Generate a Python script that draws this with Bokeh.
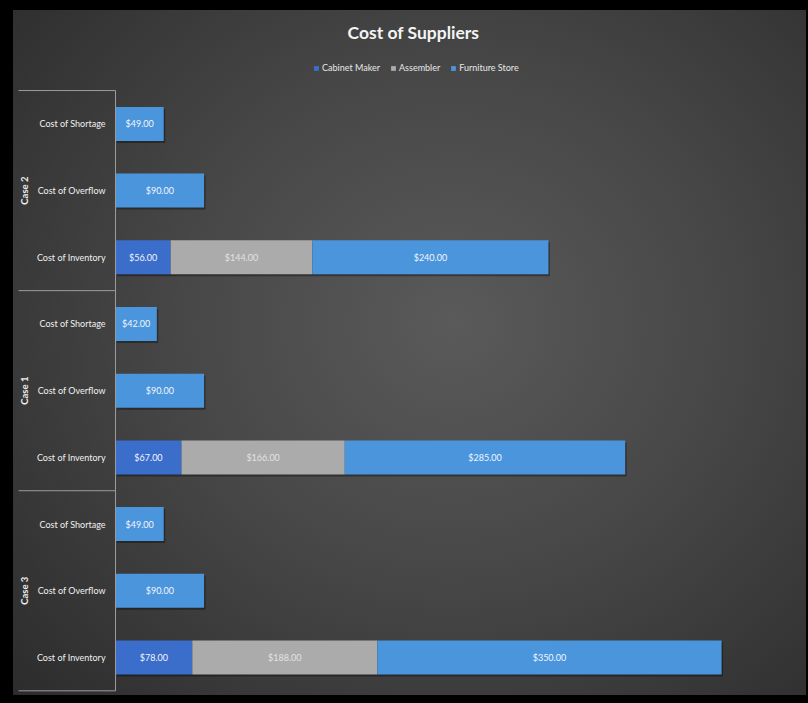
from bokeh.plotting import figure
from bokeh.models import Range1d, ColumnDataSource, Legend, LegendItem, Label
from bokeh.core.properties import value
from bokeh.embed import file_html
from bokeh.resources import INLINE

# ---- data (rows listed bottom to top) ----
cases = ["Case 3", "Case 1", "Case 2"]
metrics = ["Cost of Inventory", "Cost of Overflow", "Cost of Shortage"]
series = ["Cabinet Maker", "Assembler", "Furniture Store"]
cabinet_maker = [78, 0, 0, 67, 0, 0, 56, 0, 0]
assembler = [188, 0, 0, 166, 0, 0, 144, 0, 0]
furniture_store = [350, 90, 49, 285, 90, 42, 240, 90, 49]

colors = ["#3b6dcb", "#ababab", "#4b95dd"]
label_colors = ["#f2f5fb", "#e2e2e2", "#f2f5fb"]
FONT = "Lato"
W, H = 808, 703

rows = [(c, m) for c in cases for m in metrics]
ypos = list(range(len(rows)))          # row index, bottom to top
values = [cabinet_maker, assembler, furniture_store]

X0 = -116.9
p = figure(
    width=W, height=H, title=None,
    x_range=Range1d(X0, 704.3), y_range=Range1d(-0.69, 9.85),
    output_backend="svg", toolbar_location=None,
    min_border_left=0, min_border_right=0, min_border_top=0, min_border_bottom=0,
)
p.styles = {
    "background": "radial-gradient(ellipse 75% 80% at 56% 46%, #5a5a5a 0%, #474747 45%, #2b2b2b 100%)",
    "box-shadow": "inset 13px 10px 0 0 #000, inset -2px -8px 0 0 #000",
}
p.border_fill_color = None
p.background_fill_color = None
p.outline_line_color = None
p.xaxis.visible = False
p.yaxis.visible = False
p.xgrid.visible = False
p.ygrid.visible = False

# soft shadow beneath each stacked bar
totals = [a + b + c for a, b, c in zip(cabinet_maker, assembler, furniture_store)]
p.hbar(y=[yy - 0.03 for yy in ypos], left=1.5, right=[t + 1.5 for t in totals], height=0.51,
       fill_color="#000000", fill_alpha=0.35, line_color=None)

# stacked bars
left = [0] * len(rows)
renderers = []
lab_x, lab_y, lab_t, lab_c = [], [], [], []
for name, vals, col, lc in zip(series, values, colors, label_colors):
    right = [l + v for l, v in zip(left, vals)]
    src = ColumnDataSource(dict(y=ypos, left=left, right=right))
    r = p.hbar(y="y", left="left", right="right", height=0.51, source=src,
               fill_color=col, line_color=None)
    renderers.append(r)
    for yy, l, v in zip(ypos, left, vals):
        if v > 0:
            lab_x.append(l + v / 2)
            lab_y.append(yy)
            lab_t.append(f"${v:.2f}")
            lab_c.append(lc)
    left = right

p.text(x="x", y="y", text="t", text_color="c",
       source=ColumnDataSource(dict(x=lab_x, y=lab_y, t=lab_t, c=lab_c)),
       text_align="center", text_baseline="middle",
       text_font=value(FONT), text_font_size="9px")

# category labels
p.text(x=[-10] * len(rows), y=ypos, text=[m for _, m in rows],
       text_align="right", text_baseline="middle", text_color="#f0f0f0",
       text_font=value(FONT), text_font_size="9px")

# group labels (vertical), centred on each group's rows
n = len(metrics)
grp_y = [sum(ypos[i * n:(i + 1) * n]) / n for i in range(len(cases))]
p.text(x=[-92] * len(cases), y=grp_y, text=cases, angle=1.5708,
       text_align="center", text_baseline="middle", text_color="#eeeeee",
       text_font=value(FONT), text_font_size="9.5px", text_font_style="bold")

# group separators and axis line
sep_y = [ypos[0] - 0.5] + [ypos[(i + 1) * n - 1] + 0.5 for i in range(len(cases))]
XS = -98.6
p.segment(x0=[XS] * len(sep_y), x1=[0] * len(sep_y), y0=sep_y, y1=sep_y,
          line_color="#9c9c9c", line_width=1)
p.segment(x0=[0], x1=[0], y0=[sep_y[0]], y1=[sep_y[-1]],
          line_color="#9c9c9c", line_width=1)

# title
p.add_layout(Label(x=413, y=H - 32, x_units="screen", y_units="screen",
                   text="Cost of Suppliers", text_align="center", text_baseline="middle",
                   text_font=FONT, text_font_style="bold", text_font_size="17.5px",
                   text_color="#f4f4f4"))

legend = Legend(items=[LegendItem(label=s, renderers=[r]) for s, r in zip(series, renderers)],
                orientation="horizontal", location=(313, H - 73),
                background_fill_alpha=0, border_line_color=None,
                label_text_color="#e8e8e8", label_text_font=FONT, label_text_font_size="9px",
                glyph_width=6, glyph_height=6, label_standoff=3, spacing=10,
                padding=2, margin=0, label_height=10)
p.add_layout(legend, "center")

open("out.html", "w").write(file_html(p, INLINE))
